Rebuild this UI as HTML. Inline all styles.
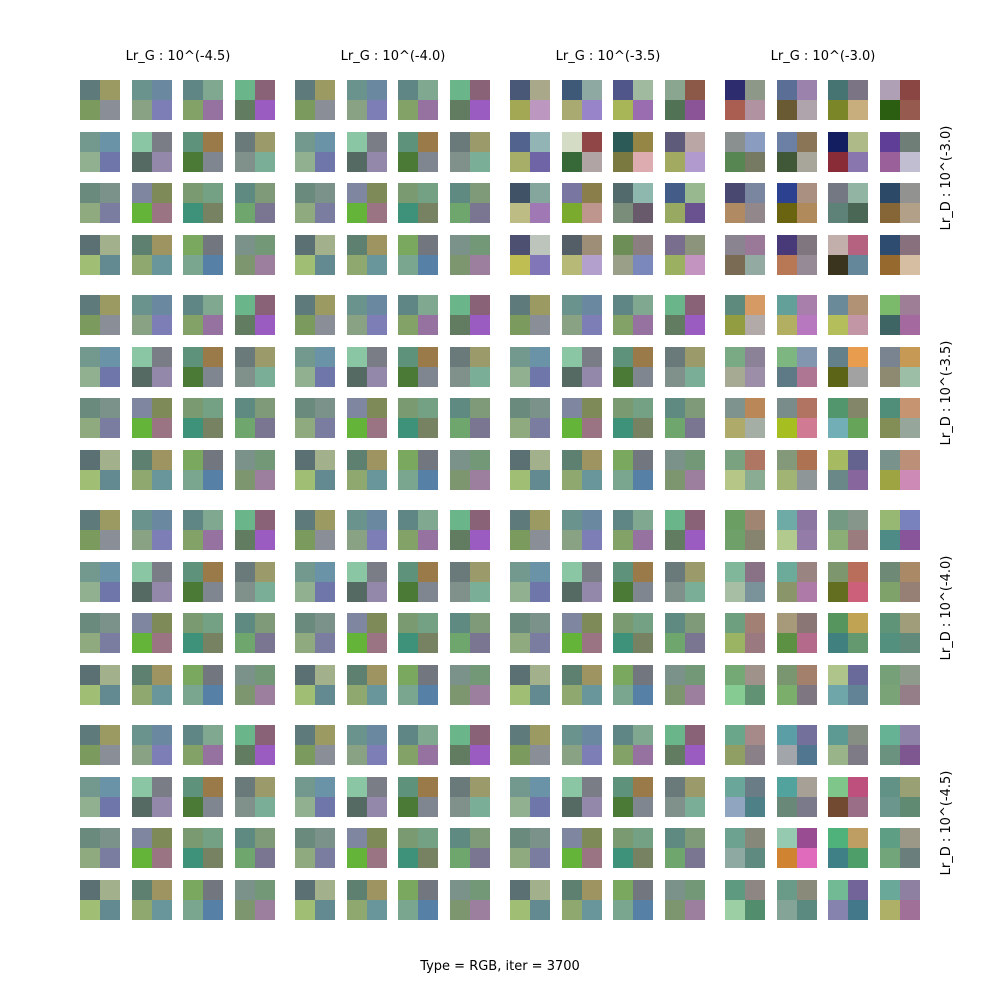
<!DOCTYPE html>
<html><head><meta charset="utf-8"><style>
html,body{margin:0;padding:0;background:#fff;}
svg{display:block;font-family:"DejaVu Sans","Liberation Sans",sans-serif;}
</style></head><body>
<svg id="chart" width="1000" height="1000" viewBox="0 0 1000 1000">
<rect width="1000" height="1000" fill="#fff"/>
<g id="marks"></g>
<g id="labels"></g>
</svg>
<script>
const colTitles = ["Lr_G : 10^(-4.5)","Lr_G : 10^(-4.0)","Lr_G : 10^(-3.5)","Lr_G : 10^(-3.0)"];
const rowTitles = ["Lr_D : 10^(-3.0)","Lr_D : 10^(-3.5)","Lr_D : 10^(-4.0)","Lr_D : 10^(-4.5)"];
const footer = "Type = RGB, iter = 3700";
const baseTiles = [
"5f7a7a,9a9a62,7b9a5e,8a8e96","6a938e,6a88a0,8aa284,7e7eb6","5f8585,80a890,82a268,9672a0","6ab58a,8a6278,627c62,9a5cc0",
"73988e,6a93a8,90b090,6e76aa","8ac6a4,7a7c86,546a62,9488aa","5e927a,9a7a48,4a7a36,808690","6a7a7a,9a9a6a,80908a,7aae96",
"6a8a7e,7a928a,90aa80,7a7ca0","7e86a0,7e8a58,64b43a,9a7482","7a9a72,74a084,3e927a,768262","5e8a82,7e9a78,6ea66e,7a7692",
"5a7072,a2b08c,a0be74,628a90","5e8070,9e9462,8ea870,68969a","7aa85e,72767e,7aa690,5680a6","7a928a,729878,7e9670,9c7e9e"];
const tilesR0C2 = [
"4a5878,aaa88a,a2a854,bc98c0","3e5878,8ea8a2,a8aa72,9884c8","50568a,a0baa0,a8b658,9a6cb0","8aa690,8c5848,527256,8a5496",
"52648e,92b4b4,a6ae68,6e64a6","d4dcc6,904646,366838,b0a4a4","2c5a56,968646,7a7a40,dcacb0","5e5a7a,baa6a4,a2aa62,b09ace",
"405266,84a69c,bcbc84,a078b4","7a76a2,8a7e4a,7aaa2e,be968e","526a6c,8eb8ae,7a8c7a,685a6a","445c88,98b890,98aa62,6a5290",
"4e5072,bcc4bc,bebe52,8076b8","545e66,9e8e78,b6ba76,b4a0cc","6e8e58,8a7e80,9aa088,7a88bc","7a6e8e,8c947c,9cb062,c494c0"];
const tilesR0C3 = [
"2c2c6e,8e9888,aa5e52,b092a0","5a6e96,9a82ac,6a5a34,b0a4ac","467472,7a7484,7a8628,c8ae7c","b0a0b6,8a4642,2c5e12,965a4e",
"8a9090,8a9cc0,588652,767a62","6c80a6,8a7656,405838,a8a69a","121e60,aeba88,8a2c38,8a76ae","5e3e96,707e78,9a609a,c2bed2",
"484870,7a86a0,b08a62,92888c","2c4290,aa9080,6a6410,b08a5a","747882,92b4a2,5e8278,4a6654","2c4a68,929290,866636,b2a088",
"8a8490,9a7898,7a6c54,92aaa2","483a78,807680,b87856,968a96","c2aeaa,b46280,3a341e,64889a","2e4c70,88707c,966a2e,d6bea2"];
const tilesR1C3 = [
"5e8a7e,d69a64,929c40,b2aaa8","64a09a,a87eaa,b2ae62,b878c0","6a8a9a,b29274,b4be5a,c296a4","7aba6a,9e7e96,3e6464,a46aa0",
"7aaa84,8c8298,a6aa92,9c8ea8","7eb682,8296b0,5e7a86,ae7692","64808a,e89c4e,5c6418,a2a2a2","7a8490,c69a54,8e8a72,9cbea6",
"7e928e,ba8858,aeaa6a,a4aea4","7a8c8a,b27462,a6be20,d07a94","52966e,84866a,72aeb6,66a45a","508e7a,c69470,828e56,96a69a",
"7aa280,b07664,b6c686,8aac92","84987a,ac7252,a2b474,8e9698","a6ba62,64628e,6a8888,86669c","7a928c,bc9078,9ea442,ce8ab6"];
const tilesR2C3 = [
"6a9e62,a08672,70a06a,86846e","6eaaa6,8a76a0,b2ca8e,947ca8","749a84,86968a,8aae76,9a7c7e","96b872,7a82be,4e8a86,88549a",
"80b69a,8a7286,a8bea4,7a929a","6caa9a,9a8482,8a966a,ae7aa8","7e966e,b86e5a,646e20,cc607a","6e8a76,aa8a66,7ea26a,968076",
"6ea080,a28074,9ab464,9a7a80","a69a7a,8a7674,5c9042,b46a8a","56965e,c0a454,40807e,64986e","609478,a09e7a,54907e,628a7a",
"74a874,9e928a,86cc92,629274","7a9670,a2806c,7aae6a,7e7680","aec48a,6a6a9a,6ea6aa,628296","76a078,8e9a8c,7aa478,967e88"];
const tilesR3C3 = [
"6aa68a,a68a8a,90a064,8a8088","5c9ea6,74709c,a2a6aa,507690","5e9a94,868e84,9ab48a,7e7a86","66b294,8e82a8,6a927e,7e5690",
"6aa69a,6a7c86,90a6c0,4e8088","52a29e,a6a096,6a8878,7a7a8a","7ec68a,be507e,724a32,9a6e86","629286,98a074,6a968e,608a72",
"6ea290,86887a,8ea8a2,5e8a80","96cab0,9a4c92,d08432,e06abc","4eb27a,be9e62,3e8086,4e9e6a","5e9e84,9c9888,72a67a,6a7e7c",
"5e9a80,8e8682,9cd0a4,528e6e","6a9a88,8a8a7a,84a498,5a8a80","72ba94,726498,8684ae,42788a","6aa89a,8e80a0,aeb068,a07098"];
const panelData = [
 [baseTiles, baseTiles, tilesR0C2, tilesR0C3],
 [baseTiles, baseTiles, baseTiles, tilesR1C3],
 [baseTiles, baseTiles, baseTiles, tilesR2C3],
 [baseTiles, baseTiles, baseTiles, tilesR3C3]];

const NS="http://www.w3.org/2000/svg";
const marks=document.getElementById('marks');
const labels=document.getElementById('labels');
const panelX=c=>80+c*215, panelY=r=>80+r*215;
const tileOff=i=>Math.round(i*51.67);
const cell=20;
for(let pr=0;pr<4;pr++)for(let pc=0;pc<4;pc++){
  const g=document.createElementNS(NS,'g');
  
  
  marks.appendChild(g);
  panelData[pr][pc].forEach((t,ti)=>{
    const cols=t.split(',');
    const tx=panelX(pc)+tileOff(ti%4), ty=panelY(pr)+tileOff(Math.floor(ti/4));
    cols.forEach((c,ci)=>{
      const r=document.createElementNS(NS,'rect');
      r.setAttribute('x',tx+(ci%2)*cell);
      r.setAttribute('y',ty+Math.floor(ci/2)*cell);
      r.setAttribute('width',cell);r.setAttribute('height',cell);
      r.setAttribute('fill','#'+c);
      
      
      g.appendChild(r);
    });
  });
}
function txt(s,x,y,rot,name){
  const t=document.createElementNS(NS,'text');
  t.textContent=s;t.setAttribute('x',x);t.setAttribute('y',y);
  t.setAttribute('font-size','13');t.setAttribute('text-anchor','middle');
  t.setAttribute('fill','#000');
  if(rot)t.setAttribute('transform','rotate(-90 '+x+' '+y+')');
  
  
  labels.appendChild(t);
}
colTitles.forEach((s,i)=>txt(s,panelX(i)+98,60,false,'column-title'));
rowTitles.forEach((s,i)=>txt(s,950,panelY(i)+98,true,'row-title'));
txt(footer,500,970,false,'figure-caption');
</script>
</body></html>
